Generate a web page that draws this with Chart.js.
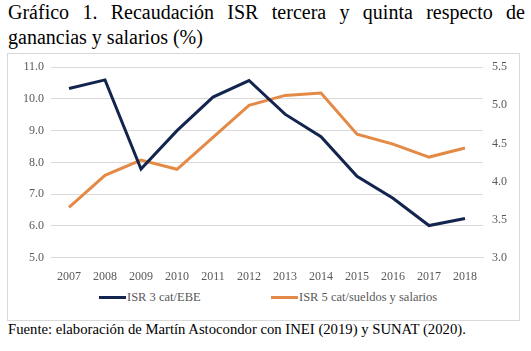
<!DOCTYPE html>
<html>
<head>
<meta charset="utf-8">
<script src="https://cdn.jsdelivr.net/npm/chart.js"></script>
<style>
  body { margin: 0; background: #fff; font-family: 'Liberation Serif', serif; }
  #title { position: absolute; left: 8px; top: 0px; width: 517px; font-size: 20px; line-height: 25px;
           text-align: justify; text-align-last: left; color: #000; font-family: 'Liberation Serif', serif; }
  #box { position: absolute; left: 7px; top: 53px; width: 511px; height: 266px; border: 1px solid #d9d9d9; }
  #wrap { position: absolute; left: 0; top: -3px; width: 511px; height: 237px; }
  #legend { position: absolute; top: 236px; left: 0; width: 511px; font-size: 12.5px; color: #595959; font-family: 'Liberation Serif', serif; }
  .item { position: absolute; top: 0; white-space: nowrap; }
  .line { display: inline-block; width: 27px; height: 3px; vertical-align: middle; margin-right: 1px; position: relative; top: -1px; }
  #source { position: absolute; left: 8px; top: 321px; font-size: 14.7px; color: #000; font-family: 'Liberation Serif', serif; }
</style>
</head>
<body>
<div id="title">Gráfico 1. Recaudación ISR tercera y quinta respecto de ganancias y salarios (%)</div>
<div id="box">
  <div id="wrap"><canvas id="chart"></canvas></div>
  <div id="legend">
    <span class="item" style="left:91px"><span class="line" style="background:#13254f"></span>ISR 3 cat/EBE</span>
    <span class="item" style="left:263px"><span class="line" style="background:#e48a47"></span>ISR 5 cat/sueldos y salarios</span>
  </div>
</div>
<div id="source">Fuente: elaboración de Martín Astocondor con INEI (2019) y SUNAT (2020).</div>
<script>
const years = ["2007", "2008", "2009", "2010", "2011", "2012", "2013", "2014", "2015", "2016", "2017", "2018"];
const isr3 = [10.33, 10.60, 7.79, 9.00, 10.06, 10.58, 9.52, 8.81, 7.56, 6.87, 6.01, 6.23];
const isr5 = [3.66, 4.08, 4.28, 4.16, 4.58, 5.00, 5.13, 5.16, 4.62, 4.49, 4.32, 4.44];
const leftTicks = [5, 6, 7, 8, 9, 10, 11];
const rightTicks = [3.0, 3.5, 4.0, 4.5, 5.0, 5.5];

const tickFont = { family: "'Liberation Serif', serif", size: 12 };
const grey = "#595959";

new Chart(document.getElementById("chart"), {
  type: "line",
  data: {
    labels: years,
    datasets: [
      {
        label: "ISR 3 cat/EBE",
        data: isr3,
        borderColor: "#13254f",
        borderWidth: 3,
        pointRadius: 0,
        tension: 0,
        yAxisID: "y",
      },
      {
        label: "ISR 5 cat/sueldos y salarios",
        data: isr5,
        borderColor: "#e48a47",
        borderWidth: 3,
        pointRadius: 0,
        tension: 0,
        yAxisID: "y1",
      },
    ],
  },
  options: {
    responsive: true,
    maintainAspectRatio: false,
    animation: false,
    layout: { padding: { left: 8, right: 3, top: 10, bottom: 0 } },
    plugins: { legend: { display: false }, tooltip: { enabled: false } },
    scales: {
      x: {
        offset: true,
        grid: { display: false },
        border: { color: "#d9d9d9" },
        ticks: { color: grey, font: tickFont, maxRotation: 0, padding: 4 },
      },
      y: {
        position: "left",
        min: 5,
        max: 11,
        afterBuildTicks: (s) => { s.ticks = leftTicks.map((v) => ({ value: v })); },
        grid: { color: "#d9d9d9", drawTicks: false },
        border: { display: false },
        ticks: { color: grey, font: tickFont, padding: 7, callback: (v) => v.toFixed(1) },
      },
      y1: {
        position: "right",
        min: 3,
        max: 5.5,
        afterBuildTicks: (s) => { s.ticks = rightTicks.map((v) => ({ value: v })); },
        grid: { display: false, drawTicks: false },
        border: { display: false },
        ticks: { color: grey, font: tickFont, padding: 9, callback: (v) => v.toFixed(1) },
      },
    },
  },
});
</script>
</body>
</html>
